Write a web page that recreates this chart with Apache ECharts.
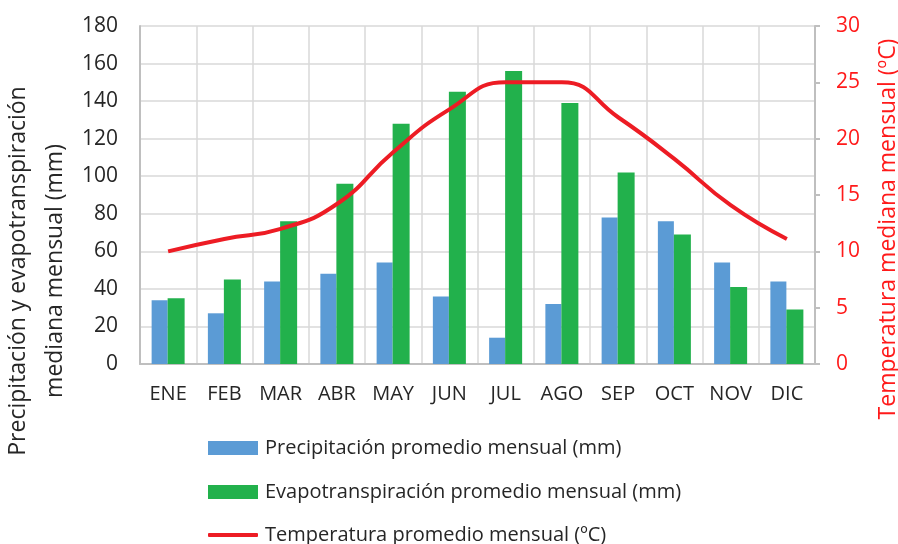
<!DOCTYPE html>
<html>
<head>
<meta charset="utf-8">
<script src="https://cdn.jsdelivr.net/npm/echarts@6/dist/echarts.min.js"></script>
<style>
  html, body { margin: 0; padding: 0; background: #fff; }
  #chart { width: 898px; height: 544px; }
</style>
</head>
<body>
<div id="chart"></div>
<script>
// Monthly climate values
const months = ['ENE', 'FEB', 'MAR', 'ABR', 'MAY', 'JUN', 'JUL', 'AGO', 'SEP', 'OCT', 'NOV', 'DIC'];
const precipitation = [34, 27, 44, 48, 54, 36, 14, 32, 78, 76, 54, 44];
const evapotranspiration = [35, 45, 76, 96, 128, 145, 156, 139, 102, 69, 41, 29];
const temperature = [10, 11.1, 12, 14.2, 18.8, 22.6, 25, 25, 21.9, 18.2, 14.1, 11.1];

const NAME_P = 'Precipitación promedio mensual (mm)';
const NAME_E = 'Evapotranspiración promedio mensual (mm)';
const NAME_T = 'Temperatura promedio mensual (ºC)';

const FONT = '"Open Sans"';
const TEXT = '#262626';
const RED = '#ED1C24';
const RED_TEXT = '#FF1A1A';
const GRID = '#D9D9D9';
const AXIS = '#BFBFBF';
const TITLE_FONT = '23px "Open Sans"';

const chart = echarts.init(document.getElementById('chart'), null, { renderer: 'canvas' });

function legendAt(name, top, icon, itemHeight) {
  return {
    orient: 'vertical',
    left: 208,
    top: top,
    padding: 0,
    itemWidth: 50,
    itemHeight: itemHeight,
    selectedMode: false,
    textStyle: { fontFamily: FONT, fontSize: 20, color: TEXT, padding: [0, 0, 0, 2] },
    data: [{ name: name, icon: icon }]
  };
}

chart.setOption({
  animation: false,
  textStyle: { fontFamily: FONT },
  grid: { left: 140, right: 83, top: 26, bottom: 180 },
  legend: [
    legendAt(NAME_P, 438, 'rect', 14),
    legendAt(NAME_E, 482, 'rect', 14),
    legendAt(NAME_T, 525, 'roundRect', 4)
  ],
  // Axis titles (rotated, reading bottom to top)
  graphic: [
    {
      type: 'text', x: 18, y: 271, rotation: Math.PI / 2,
      style: { text: 'Precipitación y evapotranspiración', font: TITLE_FONT, fill: TEXT, align: 'center', verticalAlign: 'middle' }
    },
    {
      type: 'text', x: 55, y: 271, rotation: Math.PI / 2,
      style: { text: 'mediana mensual (mm)', font: TITLE_FONT, fill: TEXT, align: 'center', verticalAlign: 'middle' }
    },
    {
      type: 'text', x: 888, y: 229, rotation: Math.PI / 2,
      style: { text: 'Temperatura mediana mensual (ºC)', font: TITLE_FONT, fill: RED_TEXT, align: 'center', verticalAlign: 'middle' }
    }
  ],
  xAxis: {
    type: 'category',
    data: months,
    boundaryGap: true,
    axisLine: { lineStyle: { color: AXIS, width: 2 } },
    axisTick: { show: false },
    axisLabel: { color: TEXT, fontSize: 20, fontFamily: FONT, margin: 20 },
    splitLine: { show: true, lineStyle: { color: GRID, width: 1.5 } }
  },
  yAxis: [
    {
      type: 'value',
      min: 0, max: 180, interval: 20,
      axisLine: { show: true, lineStyle: { color: AXIS, width: 2 } },
      axisTick: { show: false },
      axisLabel: { color: TEXT, fontSize: 21, fontFamily: FONT, margin: 22 },
      splitLine: { show: true, lineStyle: { color: GRID, width: 1.5 } }
    },
    {
      type: 'value',
      min: 0, max: 30, interval: 5,
      position: 'right',
      axisLine: { show: true, lineStyle: { color: AXIS, width: 2 } },
      axisTick: { show: true, length: 5, inside: false, lineStyle: { color: AXIS, width: 2 } },
      axisLabel: { color: RED_TEXT, fontSize: 21, fontFamily: FONT, margin: 21 },
      splitLine: { show: false }
    }
  ],
  series: [
    {
      name: NAME_P,
      type: 'bar',
      yAxisIndex: 0,
      data: precipitation,
      barWidth: 16,
      barGap: '0%',
      itemStyle: { color: '#5B9BD5' }
    },
    {
      name: NAME_E,
      type: 'bar',
      yAxisIndex: 0,
      data: evapotranspiration,
      barWidth: 17,
      itemStyle: { color: '#22B14C' }
    },
    {
      name: NAME_T,
      type: 'line',
      yAxisIndex: 1,
      data: temperature,
      smooth: 0.5,
      symbol: 'none',
      lineStyle: { color: RED, width: 4 },
      itemStyle: { color: RED }
    }
  ]
});
</script>
</body>
</html>
